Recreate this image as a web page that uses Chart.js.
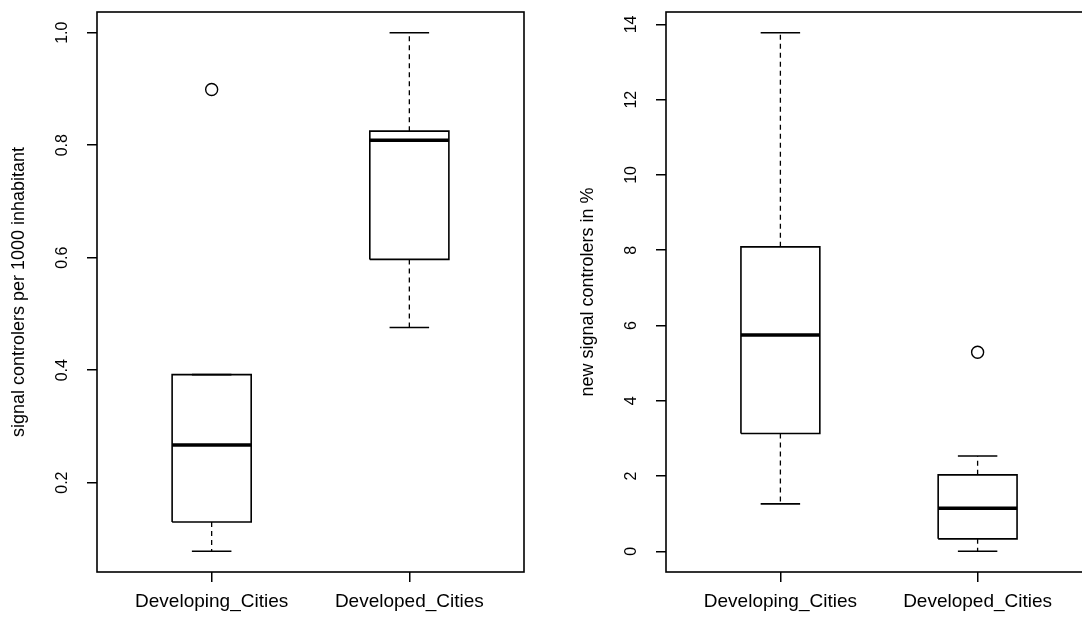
<!DOCTYPE html>
<html>
<head>
<meta charset="utf-8">
<script src="https://cdn.jsdelivr.net/npm/chart.js@4.4.1/dist/chart.umd.min.js"></script>
<style>
  html, body { margin:0; padding:0; background:#fff; width:1082px; height:624px; overflow:hidden; }
  .panel { position:absolute; top:0; height:624px; }
  #leftBox { left:0; width:540px; }
  #rightBox { left:540px; width:560px; }
</style>
</head>
<body>
<div class="panel" id="leftBox"><canvas id="densityChart"></canvas></div>
<div class="panel" id="rightBox"><canvas id="growthChart"></canvas></div>
<script>
// categories
const categories = ["Developing_Cities", "Developed_Cities"];

// left plot: signal controllers per 1000 inhabitant
const densityMin = [0.078, 0.476];
const densityQ1 = [0.130, 0.597];
const densityMedian = [0.267, 0.809];
const densityQ3 = [0.392, 0.825];
const densityMax = [0.392, 1.0];
const densityOutliers = [[0.899], []];
const densityTicks = [0.2, 0.4, 0.6, 0.8, 1.0];

// right plot: new signal controllers in %
const growthMin = [1.26, 0.0];
const growthQ1 = [3.13, 0.33];
const growthMedian = [5.75, 1.14];
const growthQ3 = [8.09, 2.03];
const growthMax = [13.78, 2.53];
const growthOutliers = [[], [5.29]];
const growthTicks = [0, 2, 4, 6, 8, 10, 12, 14];

Chart.defaults.color = "#000";
Chart.defaults.font.family = "'Liberation Sans', Arial, sans-serif";

function line(points, width, dash) {
  return {
    data: points,
    showLine: true,
    borderColor: "#000",
    borderWidth: width,
    borderDash: dash || [],
    pointRadius: 0,
    pointHoverRadius: 0,
    fill: false,
    tension: 0
  };
}

// turn the five-number arrays into line datasets (box, median, whiskers, caps) + outlier points
function boxDatasets(mins, q1s, meds, q3s, maxs, outs) {
  const sets = [];
  categories.forEach((c, i) => {
    const x = i + 1, hw = 0.2, cw = 0.1;
    sets.push(line([{x:x,y:q3s[i]},{x:x,y:maxs[i]}], 1.3, [5,4]));
    sets.push(line([{x:x,y:q1s[i]},{x:x,y:mins[i]}], 1.3, [5,4]));
    sets.push(line([{x:x-cw,y:maxs[i]},{x:x+cw,y:maxs[i]}], 1.6));
    sets.push(line([{x:x-cw,y:mins[i]},{x:x+cw,y:mins[i]}], 1.6));
    sets.push(line([
      {x:x-hw,y:q1s[i]},{x:x+hw,y:q1s[i]},{x:x+hw,y:q3s[i]},{x:x-hw,y:q3s[i]},{x:x-hw,y:q1s[i]}
    ], 1.6));
    sets.push(line([{x:x-hw,y:meds[i]},{x:x+hw,y:meds[i]}], 3.5));
    sets.push({
      data: outs[i].map(v => ({x:x, y:v})),
      showLine: false,
      pointRadius: 6,
      pointHoverRadius: 6,
      pointBorderColor: "#000",
      pointBackgroundColor: "#fff",
      pointBorderWidth: 1.4
    });
  });
  return sets;
}

// frame around the plot + rotated y tick labels (R style)
const rFrame = {
  id: "rFrame",
  afterDraw(chart) {
    const {ctx, chartArea, scales} = chart;
    ctx.save();
    ctx.strokeStyle = "#000";
    ctx.lineWidth = 1.6;
    ctx.strokeRect(chartArea.left, chartArea.top, chartArea.right - chartArea.left, chartArea.bottom - chartArea.top);
    ctx.fillStyle = "#000";
    ctx.font = "16px 'Liberation Sans', Arial, sans-serif";
    ctx.textAlign = "center";
    ctx.textBaseline = "middle";
    scales.y.ticks.forEach(t => {
      const py = scales.y.getPixelForValue(t.value);
      ctx.save();
      ctx.translate(chartArea.left - 34, py);
      ctx.rotate(-Math.PI / 2);
      ctx.fillText(t.label, 0, 0);
      ctx.restore();
    });
    ctx.restore();
  }
};

function makeChart(id, sets, ticks, fmt, title, axisWidth, titlePad, padRight) {
  const all = [];
  sets.forEach(s => s.data.forEach(p => all.push(p.y)));
  const lo = Math.min(...all), hi = Math.max(...all), ext = (hi - lo) * 0.04;
  return new Chart(document.getElementById(id), {
    type: "scatter",
    data: { datasets: sets },
    plugins: [rFrame],
    options: {
      responsive: true,
      maintainAspectRatio: false,
      animation: false,
      layout: { padding: { top: 12, right: padRight, bottom: 0, left: 0 } },
      plugins: { legend: { display: false }, tooltip: { enabled: false } },
      scales: {
        x: {
          type: "linear",
          min: 0.42,
          max: 2.58,
          afterBuildTicks: s => { s.ticks = categories.map((c, i) => ({ value: i + 1 })); },
          afterFit: s => { s.height = 52; },
          ticks: {
            callback: v => categories[v - 1],
            font: { size: 19 },
            padding: 8,
            maxRotation: 0
          },
          grid: { drawOnChartArea: false, tickLength: 10, color: "#000", lineWidth: 1.5 },
          border: { display: false }
        },
        y: {
          type: "linear",
          min: lo - ext,
          max: hi + ext,
          afterBuildTicks: s => { s.ticks = ticks.map(v => ({ value: v })); },
          afterFit: s => { s.width = axisWidth; },
          ticks: { display: false, callback: fmt },
          grid: { drawOnChartArea: false, tickLength: 10, color: "#000", lineWidth: 1.5 },
          border: { display: false },
          title: {
            display: true,
            text: title,
            font: { size: 18 },
            padding: { top: titlePad, bottom: 0 }
          }
        }
      }
    }
  });
}

makeChart("densityChart",
  boxDatasets(densityMin, densityQ1, densityMedian, densityQ3, densityMax, densityOutliers),
  densityTicks, v => v.toFixed(1), "signal controlers per 1000 inhabitant", 97, 8, 16);

makeChart("growthChart",
  boxDatasets(growthMin, growthQ1, growthMedian, growthQ3, growthMax, growthOutliers),
  growthTicks, v => String(v), "new signal controlers in %", 126, 37, 8);
</script>
</body>
</html>
